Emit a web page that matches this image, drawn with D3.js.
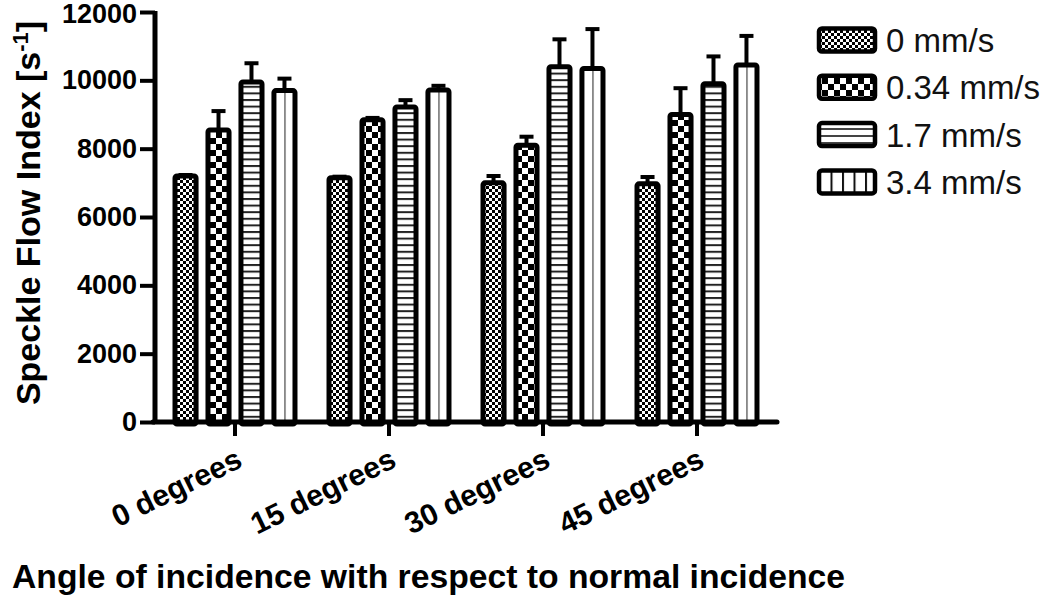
<!DOCTYPE html>
<html>
<head>
<meta charset="utf-8">
<script src="https://cdn.jsdelivr.net/npm/d3@7"></script>
<style>
  html, body { margin: 0; padding: 0; background: #fff; }
  svg { display: block; }
</style>
</head>
<body>
<svg id="chart" width="1050" height="599"></svg>
<script>
// ---- data ----
const categories = ["0 degrees", "15 degrees", "30 degrees", "45 degrees"];
const series = ["0 mm/s", "0.34 mm/s", "1.7 mm/s", "3.4 mm/s"];
const mean_0 = [7200, 7150, 7000, 6970];
const mean_034 = [8550, 8850, 8100, 9000];
const mean_17 = [9950, 9220, 10400, 9900];
const mean_34 = [9700, 9720, 10350, 10450];
const sem_0 = [30, 30, 200, 200];
const sem_034 = [550, 50, 250, 770];
const sem_17 = [550, 200, 800, 800];
const sem_34 = [350, 120, 1150, 850];
const yTicks = [0, 2000, 4000, 6000, 8000, 10000, 12000];
const yTitle = "Speckle Flow Index [s";
const xTitle = "Angle of incidence with respect to normal incidence";

const means = [mean_0, mean_034, mean_17, mean_34];
const sems = [sem_0, sem_034, sem_17, sem_34];
const rows = [];
categories.forEach((c, ci) => series.forEach((s, si) => rows.push({cat: c, ser: s, si, v: means[si][ci], e: sems[si][ci]})));

const svg = d3.select("#chart");
const defs = svg.append("defs");

// patterns
function checker(id, cell) {
  const p = defs.append("pattern").attr("id", id).attr("patternUnits", "userSpaceOnUse")
    .attr("width", cell * 2).attr("height", cell * 2);
  p.append("rect").attr("width", cell * 2).attr("height", cell * 2).attr("fill", "#fff");
  p.append("rect").attr("width", cell).attr("height", cell).attr("fill", "#000");
  p.append("rect").attr("x", cell).attr("y", cell).attr("width", cell).attr("height", cell).attr("fill", "#000");
}
checker("pat0", 3);
checker("pat1", 6);
(function () {
  const p = defs.append("pattern").attr("id", "pat2").attr("patternUnits", "userSpaceOnUse")
    .attr("width", 10).attr("height", 6.6);
  p.append("rect").attr("width", 10).attr("height", 6.6).attr("fill", "#fff");
  p.append("rect").attr("y", 0).attr("width", 10).attr("height", 2).attr("fill", "#222");
})();
(function () {
  const p = defs.append("pattern").attr("id", "pat3").attr("patternUnits", "objectBoundingBox")
    .attr("width", 0.5).attr("height", 1);
  p.append("rect").attr("width", 100).attr("height", 1000).attr("fill", "#fff");
  p.append("rect").attr("x", -1).attr("width", 2).attr("height", 1000).attr("fill", "#222");
})();
(function () {
  const p = defs.append("pattern").attr("id", "pat3leg").attr("patternUnits", "userSpaceOnUse")
    .attr("width", 11.5).attr("height", 10).attr("x", 819);
  p.append("rect").attr("width", 11.5).attr("height", 10).attr("fill", "#fff");
  p.append("rect").attr("x", 0).attr("width", 2).attr("height", 10).attr("fill", "#111");
})();
(function () {
  const p = defs.append("pattern").attr("id", "pat2leg").attr("patternUnits", "userSpaceOnUse")
    .attr("width", 10).attr("height", 7).attr("y", 128);
  p.append("rect").attr("width", 10).attr("height", 7).attr("fill", "#fff");
  p.append("rect").attr("y", 0).attr("width", 10).attr("height", 2).attr("fill", "#444");
})();
const fills = ["url(#pat0)", "url(#pat1)", "url(#pat2)", "url(#pat3)"];
const legFills = ["url(#pat0)", "url(#pat1)", "url(#pat2leg)", "url(#pat3leg)"];

// scales
const y = d3.scaleLinear().domain([0, 12000]).range([422, 12]);
const x0 = d3.scaleBand().domain(categories).range([158, 774]).padding(0);
const x1 = d3.scaleBand().domain(series).range([0, x0.bandwidth()]).paddingInner(0.21).paddingOuter(0.44);
const SW = 5;

// bars
const g = svg.append("g");
g.selectAll("rect.bar").data(rows).join("rect")
  .attr("class", "bar")
  .attr("x", d => x0(d.cat) + x1(d.ser) + SW / 2)
  .attr("width", x1.bandwidth() - SW)
  .attr("y", d => y(d.v))
  .attr("height", d => y(0) - y(d.v) + 2)
  .attr("rx", 2)
  .attr("fill", d => fills[d.si])
  .attr("stroke", "#000")
  .attr("stroke-width", SW);

// error bars
const eb = svg.append("g").attr("stroke", "#000").attr("stroke-width", 4);
rows.forEach(d => {
  const cx = x0(d.cat) + x1(d.ser) + x1.bandwidth() / 2;
  eb.append("line").attr("x1", cx).attr("x2", cx).attr("y1", y(d.v)).attr("y2", y(d.v + d.e));
  eb.append("line").attr("x1", cx - 7).attr("x2", cx + 7).attr("y1", y(d.v + d.e)).attr("y2", y(d.v + d.e));
});

// y axis
const yAxis = d3.axisLeft(y).tickValues(yTicks).tickSize(15).tickSizeOuter(0).tickPadding(3).tickFormat(d3.format("d"));
const ya = svg.append("g").attr("transform", "translate(155,0)").call(yAxis);
ya.select(".domain").attr("stroke", "#000").attr("stroke-width", 5).attr("d", `M0,${y(12000) - 1}V${y(0)}`);
ya.selectAll(".tick line").attr("stroke", "#000").attr("stroke-width", 4);
ya.selectAll(".tick text").attr("font-family", "Liberation Sans, Arial, sans-serif")
  .attr("font-weight", "bold").attr("font-size", 27).attr("fill", "#000")
  .attr("dy", d => d === 12000 ? "0.4em" : "0.32em");

// x axis
const xAxis = d3.axisBottom(x0).tickSize(14).tickSizeOuter(0).tickFormat("");
const xa = svg.append("g").attr("transform", "translate(0,422)").call(xAxis);
xa.select(".domain").attr("stroke", "#000").attr("stroke-width", 5).attr("stroke-linecap", "round")
  .attr("d", `M${x0.range()[0] - 5},0H${x0.range()[1] + 3}`);
xa.selectAll(".tick line").attr("stroke", "#000").attr("stroke-width", 4);

// x tick labels, rotated
svg.append("g").selectAll("text").data(categories).join("text")
  .attr("transform", d => `translate(${x0(d) + x0.bandwidth() / 2 + 9},${466}) rotate(-26)`)
  .attr("text-anchor", "end")
  .attr("font-family", "Liberation Sans, Arial, sans-serif")
  .attr("font-weight", "bold").attr("font-size", 30)
  .text(d => d);

// axis titles
svg.append("text")
  .attr("x", 12).attr("y", 588)
  .attr("font-family", "Liberation Sans, Arial, sans-serif")
  .attr("font-weight", "bold").attr("font-size", 33.7)
  .text(xTitle);

const yt = svg.append("text")
  .attr("transform", "translate(40,213) rotate(-90)")
  .attr("text-anchor", "middle")
  .attr("font-family", "Liberation Sans, Arial, sans-serif")
  .attr("font-weight", "bold").attr("font-size", 34);
yt.append("tspan").text(yTitle);
yt.append("tspan").attr("dy", -12).attr("font-size", 22).text("-1");
yt.append("tspan").attr("dy", 12).text("]");

// legend
const lg = svg.append("g");
series.forEach((s, i) => {
  const cy = 40 + i * 47.3;
  lg.append("rect").attr("x", 819).attr("y", cy - 11.5).attr("width", 56).attr("height", 23).attr("rx", 3)
    .attr("fill", legFills[i]).attr("stroke", "#000").attr("stroke-width", 4.5);
  lg.append("text").attr("x", 886).attr("y", cy + 12)
    .attr("font-family", "Liberation Sans, Arial, sans-serif")
    .attr("font-size", 33).attr("fill", "#111").text(s);
});
</script>
</body>
</html>
